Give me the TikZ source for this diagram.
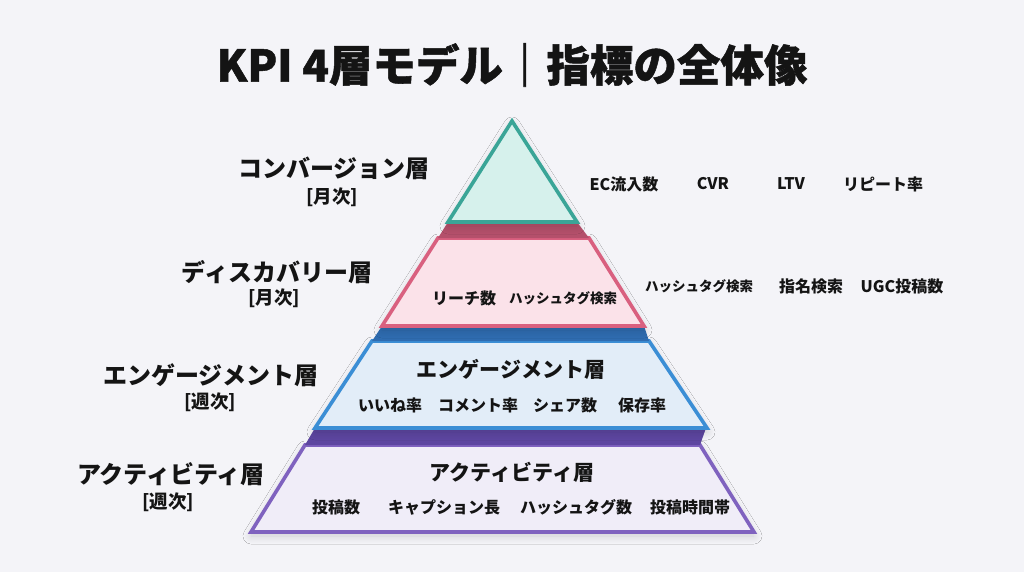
\documentclass[tikz,border=0pt]{standalone}
\usepackage{fontspec}
\setmainfont{Noto Sans CJK JP}
\newfontfamily\heavyfont{Noto Sans CJK JP}[BoldFeatures={FakeBold=1.2}]
\usetikzlibrary{shadows.blur}
\definecolor{bgc}{HTML}{F4F4F8}
\definecolor{tealB}{HTML}{3AA597}
\definecolor{tealF}{HTML}{D6F1EC}
\definecolor{pinkB}{HTML}{D9607F}
\definecolor{pinkF}{HTML}{FBE2E9}
\definecolor{pinkD}{HTML}{B4506B}
\definecolor{blueB}{HTML}{3B8ED5}
\definecolor{blueF}{HTML}{E2EDF8}
\definecolor{blueD}{HTML}{2F6CB0}
\definecolor{purpB}{HTML}{7F62BF}
\definecolor{purpF}{HTML}{F0EDF8}
\definecolor{purpD}{HTML}{5D46A0}
\definecolor{txt}{HTML}{141414}
\tikzset{
  layer/.style={line width=3.6pt, line join=miter,
    blur shadow={shadow xshift=0pt, shadow yshift=-4pt, shadow blur steps=14, shadow opacity=16, shadow blur radius=8pt}},
  sidelabel/.style={text=txt, font=\bfseries\fontsize{24}{27}\selectfont, anchor=center, inner sep=0pt},
  freq/.style={text=txt, font=\bfseries\fontsize{18.5}{21}\selectfont, anchor=center, inner sep=0pt},
  metric/.style={text=txt, font=\bfseries\fontsize{16}{19}\selectfont, anchor=center, inner sep=0pt},
  smallmetric/.style={text=txt, font=\bfseries\fontsize{13.5}{16}\selectfont, anchor=center, inner sep=0pt},
  layertitle/.style={text=txt, font=\bfseries\fontsize{21}{24}\selectfont, anchor=center, inner sep=0pt},
}
\begin{document}
\begin{tikzpicture}[x=1pt,y=-1pt]
\fill[bgc] (0,0) rectangle (1024,572);
\useasboundingbox (0,0) rectangle (1024,572);

% title
\node[text=txt, font=\heavyfont\bfseries\fontsize{43.5}{46}\selectfont, inner sep=0pt] (title) at (512,65) {KPI 4層モデル｜指標の全体像};

% layers with dark 3D bands
\draw[layer, draw=purpB, fill=purpF] (305,445) -- (700,445) -- (754,532) -- (251,532) -- cycle;
\fill[purpD] (315,428) -- (706,428) -- (700,445) -- (305,445) -- cycle;
\draw[layer, draw=blueB, fill=blueF] (372,341) -- (649,341) -- (707,428) -- (315,428) -- cycle;
\fill[blueD] (382,326) -- (644,326) -- (649,341) -- (372,341) -- cycle;
\draw[layer, draw=pinkB, fill=pinkF] (438,238) -- (589,238) -- (644,326) -- (382,326) -- cycle;
\fill[pinkD] (448,222) -- (577,222) -- (589,238) -- (438,238) -- cycle;
\draw[layer, draw=tealB, fill=tealF] (512,121) -- (577,222) -- (448,222) -- cycle;

% left labels
\node[sidelabel] (convL) at (334,168) {コンバージョン層};
\node[freq] (convF) at (332,197) {[月次]};
\node[sidelabel] (discL) at (277,272) {ディスカバリー層};
\node[freq] (discF) at (274,298) {[月次]};
\node[sidelabel] (engL) at (211,375) {エンゲージメント層};
\node[freq] (engF) at (210,402) {[週次]};
\node[sidelabel] (actL) at (171,474) {アクティビティ層};
\node[freq] (actF) at (168,502) {[週次]};

% conversion metrics
\node[metric] (m1) at (624,184) {EC流入数};
\node[metric] (m2) at (713,184) {CVR};
\node[metric] (m3) at (791,184) {LTV};
\node[metric] (m4) at (883,184) {リピート率};

% discovery metrics
\node[metric] (d1) at (464,298) {リーチ数};
\node[smallmetric] (d2) at (563,298) {ハッシュタグ検索};
\node[smallmetric] (d3) at (699,286) {ハッシュタグ検索};
\node[metric] (d4) at (811,286) {指名検索};
\node[metric] (d5) at (902,286) {UGC投稿数};

% engagement
\node[layertitle] (engT) at (511,369) {エンゲージメント層};
\node[metric] (e1) at (390,405) {いいね率};
\node[metric] (e2) at (478,405) {コメント率};
\node[metric] (e3) at (565,405) {シェア数};
\node[metric] (e4) at (642,405) {保存率};

% activity
\node[layertitle] (actT) at (512,472) {アクティビティ層};
\node[metric] (a1) at (336,507) {投稿数};
\node[metric] (a2) at (444,507) {キャプション長};
\node[metric] (a3) at (576,507) {ハッシュタグ数};
\node[metric] (a4) at (690,507) {投稿時間帯};
\end{tikzpicture}
\end{document}
